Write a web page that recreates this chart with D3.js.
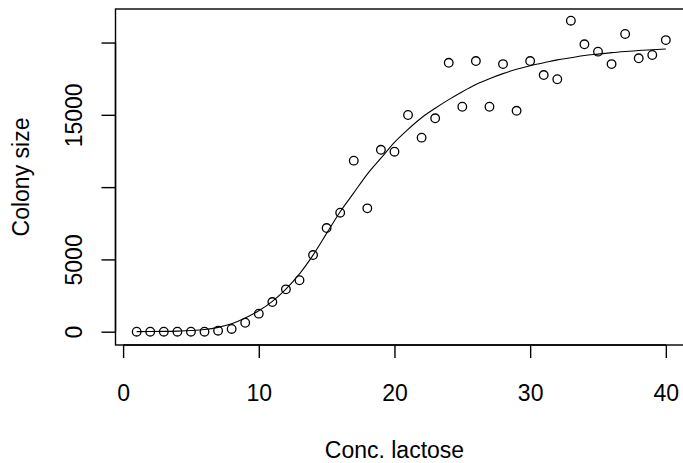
<!DOCTYPE html>
<html>
<head>
<meta charset="utf-8">
<script src="https://cdn.jsdelivr.net/npm/d3@7"></script>
<style>
  body { margin: 0; background: #fff; }
  svg { display: block; }
  text { font-family: "Liberation Sans", Arial, sans-serif; fill: #000; }
</style>
</head>
<body>
<svg id="chart"></svg>
<script>
// =====================
// Data
// =====================
const lactose = d3.range(1, 41);   // Conc. lactose 1..40
const colony = [0, 0, 0, 0, 0, 0, 70, 190, 620, 1250,
  2050, 2930, 3560, 5300, 7170, 8230, 11830, 8530, 12580, 12450,
  14990, 13420, 14760, 18600, 15560, 18720, 15560, 18510, 15280, 18720,
  17750, 17460, 21510, 19880, 19370, 18510, 20590, 18910, 19140, 20170];
const fitted = [5, 10, 20, 40, 80, 150, 300, 550, 950, 1450,
  2100, 2950, 4000, 5300, 6800, 8300, 9600, 10900, 12000, 13100,
  14000, 14800, 15450, 16050, 16600, 17100, 17500, 17850, 18150, 18400,
  18600, 18800, 18950, 19100, 19200, 19300, 19380, 19450, 19500, 19550];
const xTicks = [0, 10, 20, 30, 40];
const yTicks = [0, 5000, 10000, 15000, 20000];
const yTickLabels = ['0', '5000', '', '15000', ''];   // R drops overlapping labels

const
  width = 683,
  height = 463,
  boxLeft = 115.5,    // plot region
  boxRight = 687,
  boxTop = 9,
  boxBottom = 345,
  tickLen = 13,
  fontSize = 23;

const svg = d3.select('#chart')
  .attr('width', width)
  .attr('height', height);

const xScale = d3.scaleLinear([-0.56, 41.56], [boxLeft, boxRight]);
const yScale = d3.scaleLinear([-920, 22320], [boxBottom, boxTop]);

// --- box
svg.append('rect')
  .attr('x', boxLeft)
  .attr('y', boxTop)
  .attr('width', boxRight - boxLeft)
  .attr('height', boxBottom - boxTop)
  .attr('fill', 'none')
  .attr('stroke', '#000')
  .attr('stroke-width', 1.4);

// --- X axis
const xAxis = svg.append('g')
  .attr('transform', 'translate(0,' + boxBottom + ')')
  .call(d3.axisBottom(xScale).tickValues(xTicks).tickSize(tickLen).tickPadding(27).tickFormat(d3.format('d')));
xAxis.select('.domain')
  .attr('d', 'M' + xScale(xTicks[0]) + ',0H' + xScale(xTicks[xTicks.length - 1]))
  .attr('stroke-width', 1.4);
xAxis.selectAll('.tick line').attr('stroke-width', 1.4);
xAxis.selectAll('text').attr('font-size', fontSize).attr('font-family', null);

// --- Y axis
const yAxis = svg.append('g')
  .attr('transform', 'translate(' + boxLeft + ',0)')
  .call(d3.axisLeft(yScale).tickValues(yTicks).tickSize(tickLen + 1).tickFormat((d, i) => yTickLabels[i]));
yAxis.select('.domain')
  .attr('d', 'M0,' + yScale(yTicks[0]) + 'V' + yScale(yTicks[yTicks.length - 1]))
  .attr('stroke-width', 1.4);
yAxis.selectAll('.tick line').attr('stroke-width', 1.4);
yAxis.selectAll('.tick text')
  .attr('font-size', fontSize)
  .attr('font-family', null)
  .attr('x', null)
  .attr('dy', null)
  .attr('text-anchor', 'middle')
  .attr('transform', 'translate(-34,0) rotate(-90)');

// --- axis titles
svg.append('text')
  .text('Conc. lactose')
  .attr('x', xScale(20))
  .attr('y', 458)
  .attr('text-anchor', 'middle')
  .attr('font-size', fontSize);

svg.append('text')
  .text('Colony size')
  .attr('transform', 'translate(28.5,' + ((boxTop + boxBottom) / 2) + ') rotate(-90)')
  .attr('text-anchor', 'middle')
  .attr('font-size', fontSize);

// --- fitted curve
svg.append('path')
  .datum(lactose.map((x, i) => [x, fitted[i]]))
  .attr('fill', 'none')
  .attr('stroke', '#000')
  .attr('stroke-width', 1.1)
  .attr('d', d3.line().x(d => xScale(d[0])).y(d => yScale(d[1])).curve(d3.curveMonotoneX));

// --- points
svg.append('g')
  .selectAll('circle')
  .data(lactose)
  .enter()
  .append('circle')
  .attr('cx', d => xScale(d))
  .attr('cy', (d, i) => yScale(colony[i]))
  .attr('r', 4.3)
  .attr('fill', 'none')
  .attr('stroke', '#000')
  .attr('stroke-width', 1.3);
</script>
</body>
</html>
